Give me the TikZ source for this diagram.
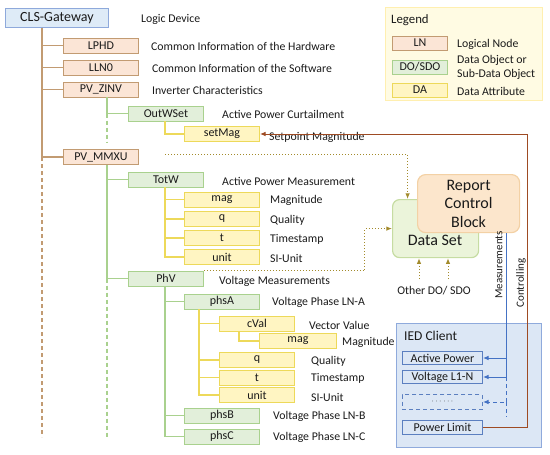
\documentclass[tikz,border=0pt]{standalone}
\usepackage{fontspec}
\setmainfont{Carlito}
\usetikzlibrary{positioning, arrows.meta, calc}
\definecolor{gwbg}{HTML}{DEEBF7}
\definecolor{gwline}{HTML}{8EA9DB}
\definecolor{lnbg}{HTML}{FBE5D6}
\definecolor{lnline}{HTML}{C29B72}
\definecolor{dobg}{HTML}{E2EFDA}
\definecolor{doline}{HTML}{A9D18E}
\definecolor{dabg}{HTML}{FFF5C2}
\definecolor{daline}{HTML}{EDD95A}
\definecolor{legbg}{HTML}{FFFBE3}
\definecolor{legline}{HTML}{FFEFB0}
\definecolor{dsbg}{HTML}{EBF4DA}
\definecolor{dsline}{HTML}{C6DCA2}
\definecolor{rcbbg}{HTML}{FCE6CC}
\definecolor{rcbline}{HTML}{F3D1A5}
\definecolor{dotc}{HTML}{A38B2C}
\definecolor{measc}{HTML}{4472C4}
\definecolor{ctrlc}{HTML}{9E4B23}
\definecolor{iedbg}{HTML}{DCE7F5}
\definecolor{iedline}{HTML}{8FAADC}
\definecolor{iedbox}{HTML}{5B7FC0}
\definecolor{ink}{HTML}{1A1A1A}
\tikzset{
  box/.style={draw, line width=0.9pt, minimum height=15pt, minimum width=75pt,
              inner sep=0pt, anchor=west, text=ink,
              font=\fontsize{12}{14}\selectfont},
  ln/.style={box, draw=lnline, fill=lnbg},
  do/.style={box, draw=doline, fill=dobg},
  da/.style={box, draw=daline, fill=dabg},
  client/.style={box, draw=iedbox, fill=iedbg, minimum width=80pt, minimum height=13pt},
  lbl/.style={anchor=west, inner sep=0pt, text=ink, font=\fontsize{11.8}{13.5}\selectfont},
  lnlink/.style={draw=lnline, line width=1.1pt},
  dolink/.style={draw=doline, line width=1.1pt},
  dalink/.style={draw=daline, line width=1.1pt},
  gap/.style={dash pattern=on 4pt off 3pt},
  dsflow/.style={-{Latex[length=2mm, width=1.6mm]}, draw=dotc, line width=1pt, dotted},
  meas/.style={-{Latex[length=2mm, width=1.6mm]}, draw=measc, line width=1pt},
  ctrl/.style={-{Latex[length=2mm, width=1.6mm]}, draw=ctrlc, line width=1pt},
}
\begin{document}
\begin{tikzpicture}[x=1pt, y=1pt]
  \useasboundingbox (0,0) rectangle (550,-455);
  % logical device and logical nodes
  \node[box, draw=gwline, fill=gwbg, minimum width=103pt, minimum height=19pt,
        font=\fontsize{14}{16}\selectfont] (gw) at (5,-18) {CLS-Gateway};
  \node[lbl] (gwtxt) at (141,-19) {Logic Device};
  \node[ln] (lphd) at (63,-45.5) {LPHD};
  \node[lbl] (lphdtxt) at (151,-46.5) {Common Information of the Hardware};
  \node[ln] (lln0) at (63,-67.5) {LLN0};
  \node[lbl] (lln0txt) at (152,-68.5) {Common Information of the Software};
  \node[ln] (zinv) at (63,-89.5) {PV\_ZINV};
  \node[lbl] (zinvtxt) at (152,-90.5) {Inverter Characteristics};
  \node[ln] (mmxu) at (63,-157) {PV\_MMXU};
  % inverter setpoint
  \node[do] (outw) at (128,-113.5) {OutWSet};
  \node[lbl] (outwtxt) at (222,-114.5) {Active Power Curtailment};
  \node[da] (setmag) at (184,-134) {setMag};
  \node[lbl] (setmagtxt) at (269,-137) {Setpoint Magnitude};
  % total power
  \node[do] (totw) at (128,-179.5) {TotW};
  \node[lbl] (totwtxt) at (222,-181) {Active Power Measurement};
  \node[da] (mag) at (184,-199.5) {mag};
  \node[lbl] (magtxt) at (270,-200.5) {Magnitude};
  \node[da] (q) at (184,-219) {q};
  \node[lbl] (qtxt) at (270,-220.5) {Quality};
  \node[da] (t) at (184,-238) {t};
  \node[lbl] (ttxt) at (270,-239) {Timestamp};
  \node[da] (unit) at (184,-257) {unit};
  \node[lbl] (unittxt) at (270,-258.5) {SI-Unit};
  % phase voltages
  \node[do] (phv) at (128,-278.5) {PhV};
  \node[lbl] (phvtxt) at (219,-281) {Voltage Measurements};
  \node[do] (phsa) at (184,-301.5) {phsA};
  \node[lbl] (phsatxt) at (272,-302.5) {Voltage Phase LN-A};
  \node[da] (cval) at (219,-323.5) {cVal};
  \node[lbl] (cvaltxt) at (309,-325) {Vector Value};
  \node[da, minimum width=77pt] (mag2) at (259,-341) {mag};
  \node[lbl] (mag2txt) at (342,-342) {Magnitude};
  \node[da] (q2) at (219,-360) {q};
  \node[lbl] (q2txt) at (311,-361) {Quality};
  \node[da] (t2) at (219,-377.5) {t};
  \node[lbl] (t2txt) at (311,-378.5) {Timestamp};
  \node[da] (unit2) at (219,-395) {unit};
  \node[lbl] (unit2txt) at (311,-397) {SI-Unit};
  \node[do] (phsb) at (184,-415.5) {phsB};
  \node[lbl] (phsbtxt) at (273,-416.5) {Voltage Phase LN-B};
  \node[do] (phsc) at (184,-436.5) {phsC};
  \node[lbl] (phsctxt) at (273,-437.5) {Voltage Phase LN-C};
  % tree lines
  \coordinate (lntrunk) at ([xshift=37pt]gw.south west);
  \foreach \n in {lphd, lln0, zinv, mmxu}
    \draw[lnlink] (lntrunk) |- (\n.west);
  \draw[lnlink, gap] (lntrunk |- mmxu.west) -- ++(0,-280);
  \coordinate (zinvtap) at ([xshift=44pt]zinv.south west);
  \draw[dolink] (zinvtap) |- (outw.west);
  \draw[dolink, gap] (zinvtap |- outw.west) -- ++(0,-29);
  \coordinate (outwtap) at ([xshift=37pt]outw.south west);
  \draw[dalink] (outwtap) |- (setmag.west);
  \coordinate (mmxutap) at ([xshift=44pt]mmxu.south west);
  \draw[dolink] (mmxutap) |- (totw.west);
  \draw[dolink] (mmxutap) |- (phv.west);
  \draw[dolink, gap] (mmxutap |- phv.west) -- ++(0,-158);
  \coordinate (totwtap) at ([xshift=37pt]totw.south west);
  \foreach \n in {mag, q, t, unit}
    \draw[dalink] (totwtap) |- (\n.west);
  \coordinate (phvtap) at ([xshift=37pt]phv.south west);
  \foreach \n in {phsa, phsb, phsc}
    \draw[dolink] (phvtap) |- (\n.west);
  \coordinate (phsatap) at ([xshift=15pt]phsa.south west);
  \foreach \n in {cval, q2, t2, unit2}
    \draw[dalink] (phsatap) |- (\n.west);
  \coordinate (cvaltap) at ([xshift=20pt]cval.south west);
  \draw[dalink] (cvaltap) |- (mag2.west);
  % legend
  \node[draw=legline, fill=legbg, line width=0.8pt, minimum width=157pt,
        minimum height=93pt, anchor=north west] (legend) at (385,-7) {};
  \node[lbl, font=\fontsize{12.8}{14}\selectfont] (legtxt) at (391,-20) {Legend};
  \node[ln, minimum width=55pt, minimum height=14pt] (legln) at (392,-43) {LN};
  \node[lbl] (leglntxt) at (457,-44) {Logical Node};
  \node[do, minimum width=55pt, minimum height=14pt] (legdo) at (392,-67) {DO/SDO};
  \node[lbl, align=left] (legdotxt) at (457,-67.5) {Data Object or\\Sub-Data Object};
  \node[da, minimum width=55pt, minimum height=14pt] (legda) at (392,-90) {DA};
  \node[lbl] (legdatxt) at (457,-91) {Data Attribute};
  % data set and report control block
  \node[draw=dsline, fill=dsbg, line width=1.2pt, rounded corners=7pt,
        minimum width=86pt, minimum height=58pt, anchor=north west] (ds) at (392,-199) {};
  \node[inner sep=0pt, text=ink, font=\fontsize{16}{18}\selectfont] (dstxt)
        at (435,-240) {Data Set};
  \node[draw=rcbline, fill=rcbbg, line width=1.2pt, rounded corners=8pt,
        minimum width=102pt, minimum height=58pt, anchor=north west, align=center,
        inner sep=0pt, text=ink, font=\fontsize{16}{18.5}\selectfont] (rcb)
        at (417,-174) {Report\\Control\\Block};
  \node[text=ink, inner sep=0pt, font=\fontsize{11.8}{13.5}\selectfont] (other)
        at (434,-291) {Other DO/ SDO};
  \coordinate (oth1) at (419,-279);
  \coordinate (oth2) at (448,-279);
  \draw[dsflow] (oth1) -- (oth1 |- ds.south);
  \draw[dsflow] (oth2) -- (oth2 |- ds.south);
  \coordinate (dstap) at ($(totwtap |- totw.north)+(0,17)$);
  \draw[dsflow] (dstap) -| ([xshift=-28pt]ds.north);
  \draw[dsflow] (phv.north east) -- ++(161,0) |- (ds.west);
  % IED client
  \node[draw=iedline, fill=iedbg, line width=0.8pt, minimum width=145pt,
        minimum height=124pt, anchor=north west] (ied) at (396,-323) {};
  \node[lbl, font=\fontsize{13.5}{15}\selectfont] (iedtxt) at (404,-336) {IED Client};
  \node[client] (apow) at (402,-358) {Active Power};
  \node[client] (volt) at (402,-377) {Voltage L1-N};
  \node[client, gap, minimum height=15pt, font=\fontsize{8}{9}\selectfont] (more)
        at (402,-402) {\textbf{$\cdots$ $\cdots$}};
  \node[client, minimum height=14pt] (plim) at (402,-427) {Power Limit};
  % measurements and controlling
  \coordinate (meastop) at ([xshift=38pt]rcb.south);
  \draw[meas] (meastop) |- (apow.east);
  \draw[meas] (meastop) |- (volt.east);
  \draw[meas, gap] (meastop |- volt.east) |- (more.east);
  \draw[draw=measc, line width=1pt, gap] (meastop |- more.east) -- ++(0,-15);
  \node[rotate=90, inner sep=0pt, text=ink, font=\fontsize{11}{12}\selectfont]
        (meastxt) at (499,-265) {Measurements};
  \draw[ctrl] (plim.east) -- ++(45,0) |- (setmag.east);
  \node[rotate=90, inner sep=0pt, text=ink, font=\fontsize{11}{12}\selectfont]
        (ctrltxt) at (521,-283) {Controlling};
\end{tikzpicture}
\end{document}
